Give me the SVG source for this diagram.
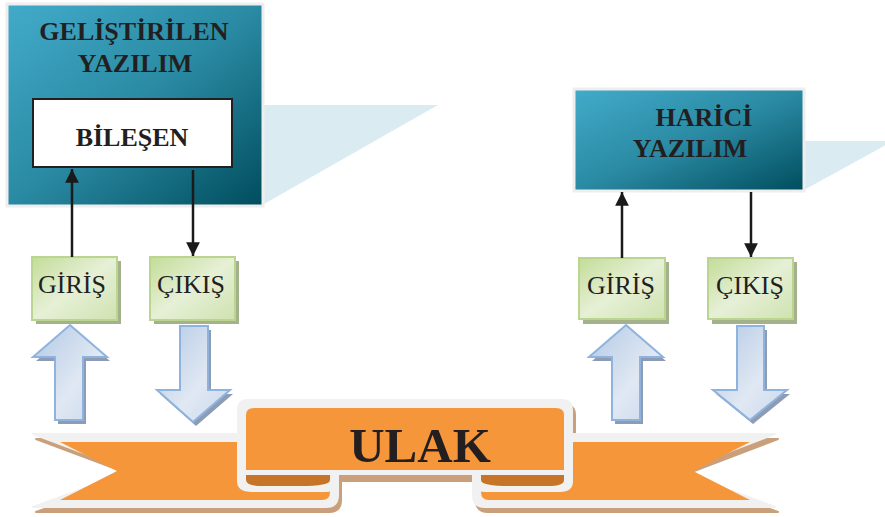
<svg xmlns="http://www.w3.org/2000/svg" width="885" height="517" viewBox="0 0 885 517">
<defs>
<linearGradient id="teal" x1="0" y1="0" x2="1" y2="1">
<stop offset="0" stop-color="#42abca"/>
<stop offset="0.5" stop-color="#2a8aa3"/>
<stop offset="1" stop-color="#004d5d"/>
</linearGradient>
<linearGradient id="green" x1="0" y1="0" x2="1" y2="1">
<stop offset="0" stop-color="#c3dc98"/>
<stop offset="0.5" stop-color="#e6f0d6"/>
<stop offset="1" stop-color="#cfe2b0"/>
</linearGradient>
<linearGradient id="blue" x1="0" y1="0" x2="1" y2="1">
<stop offset="0" stop-color="#b3c9e4"/>
<stop offset="0.6" stop-color="#e0e8f3"/>
<stop offset="1" stop-color="#c9d8ec"/>
</linearGradient>
<marker id="ah" viewBox="0 0 10 10" refX="10" refY="5" markerWidth="5.5" markerHeight="5.5" orient="auto" markerUnits="strokeWidth">
<path d="M0,0 L10,5 L0,10 Z" fill="#1a1a1a"/>
</marker>
<style>
.tb{font-family:"Liberation Serif","Times New Roman",serif;font-weight:bold;font-size:26px;fill:#231f20;text-anchor:middle}
.tr{font-family:"Liberation Serif","Times New Roman",serif;font-size:26px;fill:#231f20;text-anchor:middle}
.teal{fill:url(#teal);stroke:#eeeeee;stroke-width:3}
.tri{fill:#daecf2}
.gbox{fill:url(#green);stroke:#b9d590;stroke-width:2}
.gsh{fill:#a3b28a}
.barrow{fill:url(#blue);stroke:#8db3de;stroke-width:2;stroke-linejoin:miter}
.bsh{fill:#8d9cb4}
.wh{fill:#f1f1f1;stroke:#f1f1f1;stroke-width:2;stroke-linejoin:round}
.or{fill:#f6963a}
.dk{fill:#c77428}
.sh{fill:#c9a07b;stroke:#c9a07b;stroke-width:2;stroke-linejoin:round}
.conn{stroke:#1a1a1a;stroke-width:2.5;fill:none}
</style>
</defs>

<g id="triangles">
<polygon class="tri" points="264,105 438,105 264,204"/>
<polygon class="tri" points="804,141 893,141 804,190"/>
</g>

<g id="gelistirilen-yazilim">
<rect class="teal" x="7" y="4" width="256" height="202"/>
<text class="tb" x="134" y="40">GELİŞTİRİLEN</text>
<text class="tb" x="135" y="72">YAZILIM</text>
</g>

<g id="bilesen">
<rect x="33" y="99" width="199" height="68" fill="#ffffff" stroke="#231f20" stroke-width="2"/>
<text class="tb" x="132" y="146">BİLEŞEN</text>
</g>

<g id="harici-yazilim">
<rect class="teal" x="574" y="89" width="230" height="102"/>
<text class="tb" x="704" y="126">HARİCİ</text>
<text class="tb" x="690" y="157">YAZILIM</text>
</g>

<g id="giris-left">
<rect class="gsh" x="36" y="261" width="85" height="63"/>
<rect class="gbox" x="32" y="257" width="85" height="63"/>
<text class="tr" x="72" y="293">GİRİŞ</text>
</g>
<g id="cikis-left">
<rect class="gsh" x="154" y="261" width="85" height="63"/>
<rect class="gbox" x="150" y="257" width="85" height="63"/>
<text class="tr" x="191" y="293">ÇIKIŞ</text>
</g>
<g id="giris-right">
<rect class="gsh" x="583" y="262" width="86" height="62"/>
<rect class="gbox" x="579" y="258" width="86" height="61"/>
<text class="tr" x="621" y="294">GİRİŞ</text>
</g>
<g id="cikis-right">
<rect class="gsh" x="712" y="262" width="85" height="62"/>
<rect class="gbox" x="708" y="258" width="85" height="61"/>
<text class="tr" x="750" y="294">ÇIKIŞ</text>
</g>

<g id="connectors">
<line class="conn" x1="72" y1="257" x2="72" y2="169" marker-end="url(#ah)"/>
<line class="conn" x1="193" y1="170" x2="193" y2="256" marker-end="url(#ah)"/>
<line class="conn" x1="622" y1="258" x2="622" y2="192" marker-end="url(#ah)"/>
<line class="conn" x1="751" y1="192" x2="751" y2="257" marker-end="url(#ah)"/>
<g id="block-arrows">
<polygon class="bsh" points="73,329 110,361 86,361 86,424 58,424 58,361 36,361"/>
<polygon class="barrow" points="70,325 107,357 83,357 83,420 55,420 55,357 33,357"/>
<polygon class="bsh" points="183,330 211,330 211,394 233,394 196,426 160,394 183,394"/>
<polygon class="barrow" points="180,326 208,326 208,390 230,390 193,422 157,390 180,390"/>
<polygon class="bsh" points="629,329 666,361 643,361 643,424 615,424 615,361 592,361"/>
<polygon class="barrow" points="626,325 663,357 640,357 640,420 612,420 612,357 589,357"/>
<polygon class="bsh" points="740,330 767,330 767,394 790,394 753,424 716,394 740,394"/>
<polygon class="barrow" points="737,326 764,326 764,390 787,390 750,420 713,390 737,390"/>
</g>
</g>

<g id="ulak">
<g transform="translate(3,5)">
<path class="sh" d="M33,434 L326,434 Q338,434 338,446 L338,495 Q338,507 326,507 L33,507 L132,471 Z"/>
<path class="sh" d="M485,434 L775,434 L678,471 L775,507 L485,507 Q473,507 473,495 L473,446 Q473,434 485,434 Z"/>
<path class="sh" d="M238,410 Q238,400 248,400 H562 Q572,400 572,410 V476 H238 Z"/>
</g>
<path class="wh" d="M33,434 L326,434 Q338,434 338,446 L338,495 Q338,507 326,507 L33,507 L132,471 Z"/>
<path class="or" d="M60,442 L322,442 Q330,442 330,450 L330,492 Q330,500 322,500 L60,500 L117,471 Z"/>
<path class="wh" d="M485,434 L775,434 L678,471 L775,507 L485,507 Q473,507 473,495 L473,446 Q473,434 485,434 Z"/>
<path class="or" d="M489,442 L750,442 L693,471 L750,500 L489,500 Q481,500 481,492 L481,450 Q481,442 489,442 Z"/>
<path class="wh" d="M238,466 V481 Q238,491 252,491 H326 Q338,491 338,481 V466 Z"/>
<path class="dk" d="M246,474 H330 V480 Q330,486 300,486 H262 Q246,486 246,480 Z"/>
<path class="wh" d="M473,466 V481 Q473,491 485,491 H560 Q572,491 572,481 V466 Z"/>
<path class="dk" d="M481,474 H564 V480 Q564,486 548,486 H510 Q481,486 481,480 Z"/>
<path class="wh" d="M238,410 Q238,400 248,400 H562 Q572,400 572,410 V474 H238 Z"/>
<path class="or" d="M246,470 V415 Q246,408 254,408 H556 Q564,408 564,415 V470 Z"/>
<text x="420" y="462" font-family="'Liberation Serif','Times New Roman',serif" font-weight="bold" font-size="49" fill="#231f20" text-anchor="middle">ULAK</text>
</g>
</svg>
